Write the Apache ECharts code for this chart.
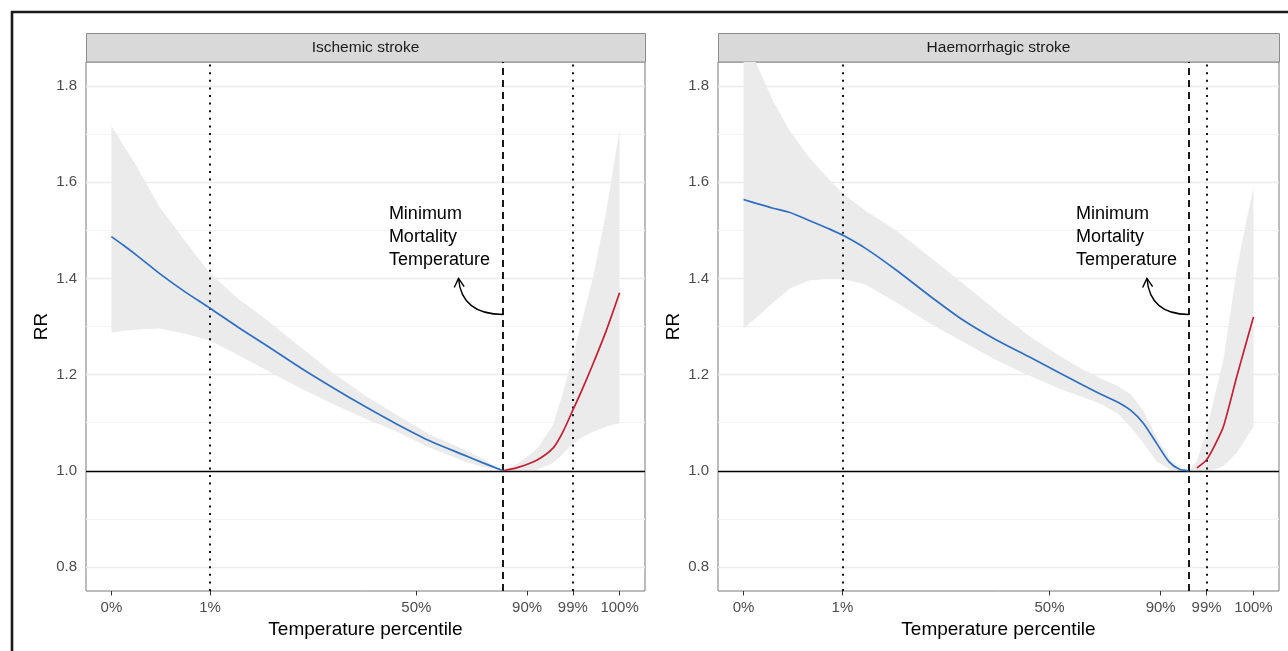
<!DOCTYPE html>
<html lang="en">
  <head>
    <meta charset="UTF-8" />
    <title>RR by temperature percentile</title>
    <style>
      * {
        margin: 0;
        padding: 0;
        box-sizing: border-box;
      }
      html,
      body {
        background: #fff;
      }
      #main {
        width: 1288px;
        height: 651px;
      }
    </style>
  </head>
  <body>
    <div id="main"></div>
    <script src="https://cdn.jsdelivr.net/npm/echarts@6/dist/echarts.min.js"></script>
    <script>
      const panelTitles = ["Ischemic stroke", "Haemorrhagic stroke"];
      // x is the temperature scale rescaled to 0..100 (min..max temperature)
      const tickPos = [0, 19.4, 60, 81.8, 90.8, 100];
      const tickLabels = ["0%", "1%", "50%", "90%", "99%", "100%"];
      const pctLines = [19.4, 90.8]; // 1st and 99th percentile
      const mmt = [77.1, 87.3]; // minimum mortality temperature
      const redFrom = [77.1, 88.9];
      const yTicks = [0.8, 1.0, 1.2, 1.4, 1.6, 1.8];
      const yMinor = [0.9, 1.1, 1.3, 1.5, 1.7];

      // Ischemic stroke
      const ischX = [0, 2.5, 5, 9.5, 14.5, 19.4, 25, 30, 37.5, 44, 50, 56, 62.7, 69.3, 73, 77.1, 80, 83.7, 86.9, 88.8, 90.8, 92.8, 94.8, 97.4, 100];
      const ischRR = [1.487, 1.468, 1.448, 1.41, 1.372, 1.338, 1.298, 1.264, 1.212, 1.17, 1.133, 1.098, 1.062, 1.033, 1.017, 1.0, 1.007, 1.022, 1.047, 1.08, 1.126, 1.173, 1.223, 1.292, 1.37];
      const ischLo = [1.287, 1.291, 1.294, 1.296, 1.285, 1.271, 1.24, 1.212, 1.17, 1.137, 1.108, 1.082, 1.048, 1.02, 1.008, 1.0, 1.0, 1.002, 1.016, 1.035, 1.057, 1.071, 1.081, 1.092, 1.099];
      const ischHi = [1.717, 1.675, 1.632, 1.548, 1.478, 1.41, 1.357, 1.318, 1.255, 1.2, 1.156, 1.117, 1.075, 1.045, 1.025, 1.0, 1.015, 1.045, 1.095, 1.16, 1.237, 1.32, 1.403, 1.541, 1.71];

      // Haemorrhagic stroke
      const haemX = [0, 2.5, 5.8, 9.1, 13, 17, 19.6, 24, 30, 36.6, 43.1, 49.6, 56, 62.1, 66.6, 70.5, 73.5, 76, 78.4, 81, 83.5, 85.5, 87.3, 88.9, 90.8, 92.5, 94.1, 96.7, 98.4, 100];
      const haemRR = [1.564, 1.556, 1.546, 1.537, 1.52, 1.502, 1.489, 1.462, 1.417, 1.363, 1.313, 1.272, 1.237, 1.203, 1.178, 1.157, 1.142, 1.125, 1.099, 1.057, 1.018, 1.003, 1.0, 1.006, 1.023, 1.055, 1.092, 1.195, 1.26, 1.32];
      const haemLo = [1.296, 1.318, 1.35, 1.379, 1.396, 1.4, 1.399, 1.387, 1.35, 1.306, 1.268, 1.23, 1.198, 1.17, 1.153, 1.137, 1.118, 1.09, 1.057, 1.02, 1.003, 1.0, 1.0, 1.0, 1.0, 1.003, 1.01, 1.037, 1.065, 1.092];
      const haemHi = [1.91, 1.847, 1.769, 1.706, 1.65, 1.603, 1.575, 1.54, 1.499, 1.444, 1.389, 1.333, 1.28, 1.238, 1.21, 1.19, 1.176, 1.158, 1.125, 1.07, 1.025, 1.003, 1.0, 1.02, 1.085, 1.16, 1.23, 1.417, 1.51, 1.589];

      // annotation anchors (data units)
      const annTextX = [54.6, 65.2];
      const annTextY = 1.486;
      const annTipX = [68.3, 79.1];
      const annTipY = 1.4;
      const annStartY = 1.325;

      const FONT = '"Liberation Sans", Arial, Helvetica, sans-serif';
      const panels = [
        { x: ischX, rr: ischRR, lo: ischLo, hi: ischHi },
        { x: haemX, rr: haemRR, lo: haemLo, hi: haemHi },
      ];
      const gridLeft = [86, 718];
      const gridW = [559, 561];
      const gridTop = 62;
      const gridH = 529;

      const chart = echarts.init(document.getElementById("main"));

      function tickLabel(v) {
        const i = tickPos.findIndex((t) => Math.abs(t - v) < 1e-6);
        return i < 0 ? "" : tickLabels[i];
      }

      const series = [];
      panels.forEach((p, i) => {
        // grid lines
        series.push({
          type: "line",
          xAxisIndex: i,
          yAxisIndex: i,
          data: [[p.x[0], p.rr[0]]],
          symbol: "none",
          lineStyle: { width: 0 },
          silent: true,
          z: 1,
          markLine: {
            z: 1,
            silent: true,
            symbol: ["none", "none"],
            label: { show: false },
            animation: false,
            data: yMinor
              .map((v) => ({ yAxis: v, lineStyle: { color: "#f2f2f2", width: 1, type: "solid" } }))
              .concat(yTicks.map((v) => ({ yAxis: v, lineStyle: { color: "#ebebeb", width: 1.3, type: "solid" } }))),
          },
        });
        // confidence band
        series.push({
          type: "custom",
          xAxisIndex: i,
          yAxisIndex: i,
          clip: true,
          silent: true,
          z: 2,
          data: [[p.x[0], p.rr[0]]],
          renderItem: (params, api) => {
            const pts = [];
            for (let k = 0; k < p.x.length; k++) pts.push(api.coord([p.x[k], p.hi[k]]));
            for (let k = p.x.length - 1; k >= 0; k--) pts.push(api.coord([p.x[k], p.lo[k]]));
            return { type: "polygon", shape: { points: pts }, style: { fill: "#ebebeb", stroke: null } };
          },
        });
        // reference lines
        series.push({
          type: "line",
          xAxisIndex: i,
          yAxisIndex: i,
          data: [[p.x[0], p.rr[0]]],
          symbol: "none",
          lineStyle: { width: 0 },
          silent: true,
          z: 3,
          markLine: {
            z: 3,
            silent: true,
            symbol: ["none", "none"],
            label: { show: false },
            animation: false,
            data: [
              { yAxis: 1, lineStyle: { color: "#000", width: 1.3, type: "solid" } },
              { xAxis: pctLines[0], lineStyle: { color: "#111", width: 2, type: [2, 5.6] } },
              { xAxis: pctLines[1], lineStyle: { color: "#111", width: 2, type: [2, 5.6] } },
              { xAxis: mmt[i], lineStyle: { color: "#000", width: 1.8, type: [7, 5] } },
            ],
          },
        });
        const blue = [];
        const red = [];
        p.x.forEach((x, k) => {
          if (x <= mmt[i]) blue.push([x, p.rr[k]]);
          if (x >= redFrom[i]) red.push([x, p.rr[k]]);
        });
        [
          [blue, "#2f6fbf"],
          [red, "#c21f32"],
        ].forEach(([d, c]) => {
          series.push({
            type: "line",
            xAxisIndex: i,
            yAxisIndex: i,
            data: d,
            symbol: "none",
            smooth: 0.25,
            lineStyle: { color: c, width: 1.7 },
            silent: true,
            z: 4,
          });
        });
        // "Minimum Mortality Temperature" label with curved arrow
        series.push({
          type: "custom",
          xAxisIndex: i,
          yAxisIndex: i,
          clip: false,
          silent: true,
          z: 5,
          data: [[annTextX[i], annTextY, annTipX[i], annTipY, mmt[i], annStartY]],
          renderItem: (params, api) => {
            const t = api.coord([api.value(0), api.value(1)]);
            const tip = api.coord([api.value(2), api.value(3)]);
            const st = api.coord([api.value(4), api.value(5)]);
            const cp = [tip[0] + 3, st[1]];
            const dx = tip[0] - cp[0];
            const dy = tip[1] - cp[1];
            const len = Math.hypot(dx, dy);
            const ux = dx / len;
            const uy = dy / len;
            const L = 10;
            const arm = (a) => [
              tip[0] - L * (ux * Math.cos(a) - uy * Math.sin(a)),
              tip[1] - L * (ux * Math.sin(a) + uy * Math.cos(a)),
            ];
            return {
              type: "group",
              children: [
                {
                  type: "text",
                  x: t[0],
                  y: t[1],
                  style: {
                    text: "Minimum\nMortality\nTemperature",
                    fill: "#000",
                    fontSize: 18,
                    fontFamily: FONT,
                    align: "left",
                    textAlign: "left",
                    verticalAlign: "middle",
                    textVerticalAlign: "middle",
                    lineHeight: 23,
                  },
                },
                {
                  type: "bezierCurve",
                  shape: { x1: st[0], y1: st[1], x2: tip[0], y2: tip[1], cpx1: cp[0], cpy1: cp[1] },
                  style: { stroke: "#000", lineWidth: 1.4, fill: "none" },
                },
                {
                  type: "polyline",
                  shape: { points: [arm(Math.PI / 6), tip, arm(-Math.PI / 6)] },
                  style: { stroke: "#000", lineWidth: 1.4, fill: "none" },
                },
              ],
            };
          },
        });
      });

      const graphic = [
        { type: "line", shape: { x1: 11, y1: 12, x2: 1288, y2: 12 }, style: { stroke: "#1a1a1a", lineWidth: 2.6 } },
        { type: "line", shape: { x1: 12, y1: 11, x2: 12, y2: 651 }, style: { stroke: "#1a1a1a", lineWidth: 2.6 } },
      ];
      panelTitles.forEach((title, i) => {
        graphic.push({
          type: "rect",
          shape: { x: gridLeft[i] + 0.5, y: 33.5, width: gridW[i], height: 28.5 },
          style: { fill: "#d9d9d9", stroke: "#8a8a8a", lineWidth: 1 },
        });
        graphic.push({
          type: "text",
          x: gridLeft[i] + gridW[i] / 2,
          y: 47.5,
          style: {
            text: title,
            fill: "#1a1a1a",
            fontSize: 15.5,
            fontFamily: FONT,
            align: "center",
            textAlign: "center",
            verticalAlign: "middle",
            textVerticalAlign: "middle",
          },
        });
      });

      const option = {
        animation: false,
        backgroundColor: "#fff",
        textStyle: { fontFamily: FONT },
        grid: panels.map((p, i) => ({
          left: gridLeft[i],
          top: gridTop,
          width: gridW[i],
          height: gridH,
          show: true,
          backgroundColor: "#fff",
          borderColor: "#7a7a7a",
          borderWidth: 1,
          containLabel: false,
          outerBoundsMode: "none",
        })),
        xAxis: panels.map((p, i) => ({
          type: "value",
          gridIndex: i,
          min: -5,
          max: 105,
          axisLine: { show: false },
          splitLine: { show: false },
          axisTick: { show: true, customValues: tickPos, length: 4.5, lineStyle: { color: "#333", width: 1 } },
          axisLabel: {
            customValues: tickPos,
            margin: 9,
            fontSize: 15,
            color: "#4d4d4d",
            fontFamily: FONT,
            formatter: tickLabel,
          },
          name: "Temperature percentile",
          nameLocation: "middle",
          nameGap: 27,
          nameTextStyle: { fontSize: 19, color: "#000", fontFamily: FONT },
        })),
        yAxis: panels.map((p, i) => ({
          type: "value",
          gridIndex: i,
          min: 0.75,
          max: 1.85,
          axisLine: { show: false },
          splitLine: { show: false },
          axisTick: { show: true, customValues: yTicks, length: 4.5, lineStyle: { color: "#333", width: 1 } },
          axisLabel: {
            customValues: yTicks,
            margin: 9,
            fontSize: 15,
            color: "#4d4d4d",
            fontFamily: FONT,
            formatter: (v) => v.toFixed(1),
          },
          name: "RR",
          nameLocation: "middle",
          nameGap: 35,
          nameRotate: 90,
          nameTextStyle: { fontSize: 19, color: "#000", fontFamily: FONT },
        })),
        graphic: graphic,
        series: series,
      };
      chart.setOption(option);
    </script>
  </body>
</html>
